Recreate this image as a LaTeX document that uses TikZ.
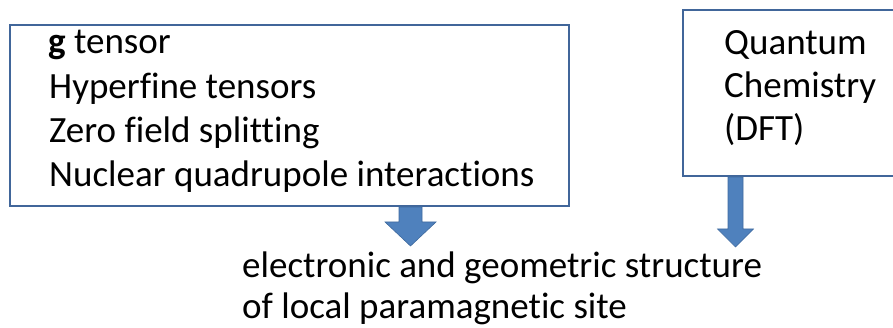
\documentclass[tikz,border=0pt]{standalone}
\usepackage{fontspec}
\setmainfont{Carlito}[Ligatures=NoCommon]
\usetikzlibrary{calc}
\definecolor{boxline}{HTML}{41669A}
\definecolor{arrowfill}{HTML}{4F81BD}
\definecolor{arrowline}{HTML}{3F6A9E}
\tikzset{
  panel/.style={draw=boxline, line width=2pt, fill=white, inner sep=0pt, anchor=north west},
  label/.style={anchor=base west, inner sep=0pt, font=\fontsize{37}{44}\selectfont},
  blockarrow/.style={fill=arrowfill, draw=arrowline, line width=0.6pt, line join=miter}
}
% block arrow pointing down: #1 top centre, #2 shaft half-width, #3 head half-width,
% #4 shaft length, #5 total length
\newcommand\fatarrow[5]{%
  \path[blockarrow] ($(#1)+(-#2,0)$) -- ($(#1)+(#2,0)$) -- ($(#1)+(#2,#4)$)
    -- ($(#1)+(#3,#4)$) -- ($(#1)+(0,#5)$) -- ($(#1)+(-#3,#4)$)
    -- ($(#1)+(-#2,#4)$) -- cycle;}
\begin{document}
\begin{tikzpicture}[x=1pt, y=-1pt]
  \useasboundingbox (0,0) rectangle (893,328);
  \clip (0,0) rectangle (893,328);

  % measured quantities
  \node[panel, minimum width=559pt, minimum height=181pt] (params) at (9,24) {};
  \node[label] (l1) at (48,54) {\textbf{g} tensor};
  \node[label] (l2) at (49,99) {Hyperfine tensors};
  \node[label] (l3) at (49,143) {Zero field splitting};
  \node[label] (l4) at (49,187) {Nuclear quadrupole interactions};

  % theory
  \node[panel, minimum width=230pt, minimum height=166pt] (qc) at (682,9) {};
  \node[label] (q1) at (724,55) {Quantum};
  \node[label] (q2) at (724,98) {Chemistry};
  \node[label] (q3) at (724,141) {(DFT)};

  % result
  \node[label] (r1) at (242,278) {electronic and geometric structure};
  \node[label] (r2) at (242,318) {of local paramagnetic site};

  % arrows from both boxes down to the result
  \coordinate (a1) at ($(params.south west)+(401.5,0)$);
  \coordinate (a2) at ($(qc.south west)+(53.5,0)$);
  \fatarrow{a1}{11.5}{25.5}{15}{39}
  \fatarrow{a2}{7.5}{18}{52}{70}
\end{tikzpicture}
\end{document}
